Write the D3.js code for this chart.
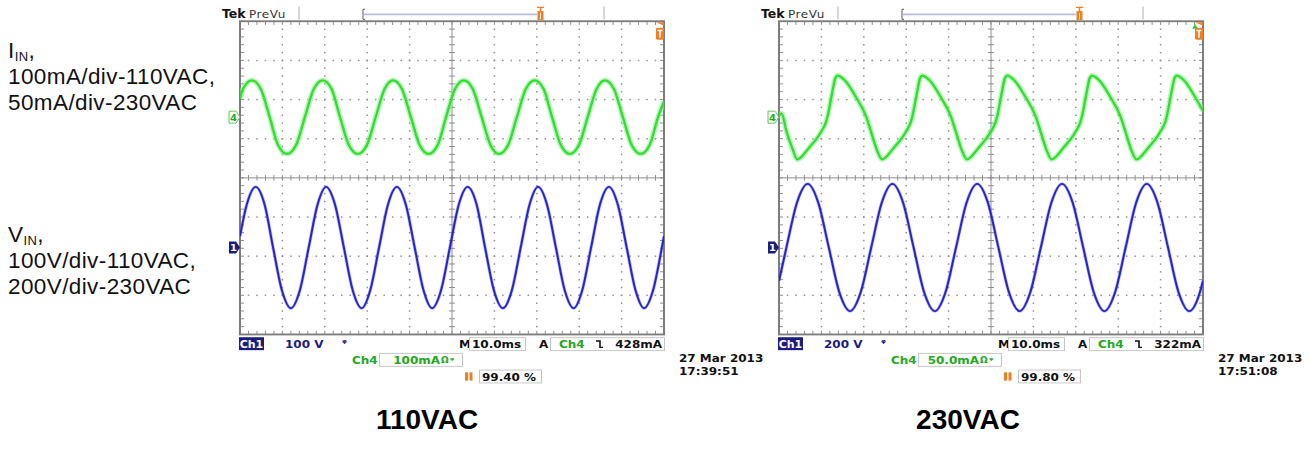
<!DOCTYPE html>
<html>
<head>
<meta charset="utf-8">
<script src="https://cdn.jsdelivr.net/npm/d3@7"></script>
<style>
  body { margin: 0; background: #fff; }
  svg { display: block; }
</style>
</head>
<body>
<svg id="chart" width="1309" height="458"></svg>
<script>
// ---- data (time in ms, 10 ms/div) ----
var scopeTitles = ["110VAC", "230VAC"];
var voltsPerDiv = [100, 200];
var milliampsPerDiv = [100, 50];
var ch1Labels = ["100 V", "200 V"];
var ch4Labels = ["100mA", "50.0mA"];
var trigLevels = ["428mA", "322mA"];
var trigPercents = ["99.40 %", "99.80 %"];
var dates = ["27 Mar 2013", "27 Mar 2013"];
var clocks = ["17:39:51", "17:51:08"];

// V_IN, 110VAC (volts)
var volt110 = [[0,29],[1.6,110],[3.7,155],[5.8,110],[7.8,0],[9.9,-110],[12.0,-155],[14.1,-110],
  [16.2,0],[18.3,110],[20.3,155],[22.4,110],[24.5,0],[26.6,-110],[28.7,-155],[30.7,-110],
  [32.8,0],[34.9,110],[37.0,155],[39.1,110],[41.2,0],[43.3,-110],[45.3,-155],[47.4,-110],
  [49.5,0],[51.6,110],[53.7,155],[55.8,110],[57.8,0],[59.9,-110],[62.0,-155],[64.1,-110],
  [66.2,0],[68.3,110],[70.3,155],[72.4,110],[74.5,0],[76.6,-110],[78.7,-155],[80.7,-110],
  [82.8,0],[84.9,110],[87.0,155],[89.1,110],[91.2,0],[93.3,-110],[95.3,-155],[97.4,-110],
  [99.5,0],[100,29]];

// I_IN, 110VAC (mA)
var curr110 = [[0,47],[0.7,72],[2.8,94],[4.9,72],[7.0,0],[9.0,-72],[11.1,-94],[13.2,-72],
  [15.3,0],[17.4,72],[19.5,94],[21.6,72],[23.6,0],[25.7,-72],[27.8,-94],[29.9,-72],
  [32.0,0],[34.1,72],[36.1,94],[38.2,72],[40.3,0],[42.4,-72],[44.5,-94],[46.6,-72],
  [48.6,0],[50.7,72],[52.8,94],[54.9,72],[57.0,0],[59.1,-72],[61.1,-94],[63.2,-72],
  [65.3,0],[67.4,72],[69.5,94],[71.6,72],[73.6,0],[75.7,-72],[77.8,-94],[79.9,-72],
  [82.0,0],[84.1,72],[86.1,94],[88.2,72],[90.3,0],[92.4,-72],[94.5,-94],[96.6,-72],
  [98.6,0],[100,40]];

// V_IN, 230VAC (volts)
var volt230 = [[0,-170],[1.75,0],[4.25,230],[6.75,325],[9.25,230],[11.75,0],[14.25,-230],[16.75,-325],
  [19.25,-230],[21.75,0],[24.25,230],[26.75,325],[29.25,230],[31.75,0],[34.25,-230],[36.75,-325],
  [39.25,-230],[41.75,0],[44.25,230],[46.75,325],[49.25,230],[51.75,0],[54.25,-230],[56.75,-325],
  [59.25,-230],[61.75,0],[64.25,230],[66.75,325],[69.25,230],[71.75,0],[74.25,-230],[76.75,-325],
  [79.25,-230],[81.75,0],[84.25,230],[86.75,325],[89.25,230],[91.75,0],[94.25,-230],[96.75,-325],
  [99.25,-230],[100,-170]];

// I_IN, 230VAC (mA)
var curr230 = [[0,2],[0.6,5],[1.8,-19],[3.3,-42],
  [4.3,-54],[7.1,-39],[9.9,-19],[11.1,-6],[11.5,2],[12.5,30],[13.3,50],[13.8,53],[15.5,47],[18.1,26],[20.6,0],[21.9,-22],[23.1,-42],
  [24.3,-54],[27.1,-39],[29.9,-19],[31.1,-6],[31.5,2],[32.5,30],[33.3,50],[33.8,53],[35.5,47],[38.1,26],[40.6,0],[41.9,-22],[43.1,-42],
  [44.3,-54],[47.1,-39],[49.9,-19],[51.1,-6],[51.5,2],[52.5,30],[53.3,50],[53.8,53],[55.5,47],[58.1,26],[60.6,0],[61.9,-22],[63.1,-42],
  [64.3,-54],[67.1,-39],[69.9,-19],[71.1,-6],[71.5,2],[72.5,30],[73.3,50],[73.8,53],[75.5,47],[78.1,26],[80.6,0],[81.9,-22],[83.1,-42],
  [84.3,-54],[87.1,-39],[89.9,-19],[91.1,-6],[91.5,2],[92.5,30],[93.3,50],[93.8,53],[95.5,47],[98.1,26],[100,8]];

var voltTraces = [volt110, volt230];
var currTraces = [curr110, curr230];

// ---- layout ----
var DIV = 42.4;
var SQUASH = 0.9234;      // the captures are shown slightly squashed vertically
var SCOPE_LEFT = [240, 779];
var SCOPE_TOP = 23;
var CH1_OFFSET = -1.78;   // divisions from centre
var CH4_OFFSET = 1.55;
var GREEN = "#33dd33", GREEN_TXT = "#22a822", BLUE = "#2626c8", NAVY = "#1c1c7e", ORANGE = "#ef7f22";
var READ_FONT = "'DejaVu Sans', sans-serif";

var svg = d3.select("#chart");
var screen = svg.append("g").attr("transform", "scale(1," + SQUASH + ")");

function drawScope(i) {
  var x0 = SCOPE_LEFT[i], y0 = SCOPE_TOP;
  var x1 = x0 + 10 * DIV, y1 = y0 + 8 * DIV;
  var x = d3.scaleLinear().domain([0, 100]).range([x0, x1]);
  var div = d3.scaleLinear().domain([-4, 4]).range([y1, y0]);
  var yV = d3.scaleLinear().domain([(-4 - CH1_OFFSET) * voltsPerDiv[i], (4 - CH1_OFFSET) * voltsPerDiv[i]]).range([y1, y0]);
  var yI = d3.scaleLinear().domain([(-4 - CH4_OFFSET) * milliampsPerDiv[i], (4 - CH4_OFFSET) * milliampsPerDiv[i]]).range([y1, y0]);

  var g = screen.append("g");

  // dotted graticule
  var minorT = d3.range(0, 100.01, 2), minorD = d3.range(-4, 4.01, 0.2);
  [10, 20, 30, 40, 60, 70, 80, 90].forEach(function (t) {
    g.selectAll(null).data(minorD.slice(1, -1)).enter().append("rect")
      .attr("x", x(t) - 0.75).attr("y", function (d) { return div(d) - 0.75; })
      .attr("width", 1.5).attr("height", 1.6).attr("fill", "#8e8e8e");
  });
  [-3, -2, -1, 1, 2, 3].forEach(function (d) {
    g.selectAll(null).data(minorT.slice(1, -1)).enter().append("rect")
      .attr("x", function (t) { return x(t) - 0.75; }).attr("y", div(d) - 0.75)
      .attr("width", 1.5).attr("height", 1.6).attr("fill", "#8e8e8e");
  });

  // centre cross with ticks
  g.append("line").attr("x1", x(50)).attr("x2", x(50)).attr("y1", y0).attr("y2", y1).attr("stroke", "#8a8a8a");
  g.append("line").attr("x1", x0).attr("x2", x1).attr("y1", div(0)).attr("y2", div(0)).attr("stroke", "#8a8a8a");
  g.selectAll(null).data(minorD).enter().append("line")
    .attr("x1", x(50) - 3).attr("x2", x(50) + 3)
    .attr("y1", function (d) { return div(d); }).attr("y2", function (d) { return div(d); })
    .attr("stroke", "#8a8a8a");
  g.selectAll(null).data(minorT).enter().append("line")
    .attr("y1", div(0) - 3).attr("y2", div(0) + 3)
    .attr("x1", function (t) { return x(t); }).attr("x2", function (t) { return x(t); })
    .attr("stroke", "#8a8a8a");

  // border ticks
  [[y0, 4], [y1, -4]].forEach(function (e) {
    g.selectAll(null).data(minorT).enter().append("line")
      .attr("x1", function (t) { return x(t); }).attr("x2", function (t) { return x(t); })
      .attr("y1", e[0]).attr("y2", e[0] + e[1]).attr("stroke", "#8a8a8a");
  });
  [[x0, 4], [x1, -4]].forEach(function (e) {
    g.selectAll(null).data(minorD).enter().append("line")
      .attr("y1", function (d) { return div(d); }).attr("y2", function (d) { return div(d); })
      .attr("x1", e[0]).attr("x2", e[0] + e[1]).attr("stroke", "#8a8a8a");
  });
  g.append("rect").attr("x", x0).attr("y", y0).attr("width", x1 - x0).attr("height", y1 - y0)
    .attr("fill", "none").attr("stroke", "#7c7c7c").attr("stroke-width", 2);

  // traces
  var clipId = "clip" + i;
  svg.append("clipPath").attr("id", clipId).append("rect")
    .attr("x", x0).attr("y", y0).attr("width", x1 - x0).attr("height", y1 - y0);
  var tg = g.append("g").attr("clip-path", "url(#" + clipId + ")");

  var lineI = d3.line().x(function (d) { return x(d[0]); }).y(function (d) { return yI(d[1]); }).curve(d3.curveMonotoneX);
  var lineV = d3.line().x(function (d) { return x(d[0]); }).y(function (d) { return yV(d[1]); }).curve(d3.curveMonotoneX);

  tg.append("path").attr("d", lineI(currTraces[i])).attr("fill", "none")
    .attr("stroke", "#8ff08f").attr("stroke-width", 5.5).attr("stroke-opacity", 0.6);
  tg.append("path").attr("d", lineI(currTraces[i])).attr("fill", "none")
    .attr("stroke", GREEN).attr("stroke-width", 2.4);
  tg.append("path").attr("d", lineV(voltTraces[i])).attr("fill", "none")
    .attr("stroke", "#6a6ae0").attr("stroke-width", 3.4).attr("stroke-opacity", 0.45);
  tg.append("path").attr("d", lineV(voltTraces[i])).attr("fill", "none")
    .attr("stroke", BLUE).attr("stroke-width", 2);

  // channel ground markers
  var m4 = yI(0), m1 = yV(0);
  g.append("path").attr("d", "M" + (x0 - 11) + "," + (m4 - 6.5) + "h7l4,6.5l-4,6.5h-7z")
    .attr("fill", "#fff").attr("stroke", "#55c855").attr("stroke-width", 1);
  g.append("text").attr("x", x0 - 6.5).attr("y", m4 + 4).attr("text-anchor", "middle")
    .style("font", "bold 10px " + READ_FONT).attr("fill", GREEN_TXT).text("4");
  g.append("path").attr("d", "M" + (x0 - 11) + "," + (m1 - 6.5) + "h7l4,6.5l-4,6.5h-7z").attr("fill", NAVY);
  g.append("text").attr("x", x0 - 6.5).attr("y", m1 + 4).attr("text-anchor", "middle")
    .style("font", "bold 10px " + READ_FONT).attr("fill", "#fff").text("1");

  // trigger level marker (top right)
  g.append("path").attr("d", "M" + (x1 - 8) + "," + (y0 + 1) + "h8v4z").attr("fill", ORANGE);
  if (i === 1) {
    g.append("path").attr("d", "M" + (x1 - 11) + "," + (y0 + 8) + "l3,-5l3,5z").attr("fill", "#3c3");
  }
  g.append("rect").attr("x", x1 - 8).attr("y", y0 + 7).attr("width", 8).attr("height", 13).attr("rx", 1.5).attr("fill", ORANGE);
  g.append("path").attr("d", "M" + (x1 - 6.5) + "," + (y0 + 10) + "h5M" + (x1 - 4) + "," + (y0 + 10) + "v8")
    .attr("stroke", "#fff").attr("stroke-width", 1.5);

  // header
  var hy = 19;
  g.append("text").attr("x", x0 - 18).attr("y", hy).style("font", "bold 12.5px " + READ_FONT).attr("fill", "#111").text("Tek");
  g.append("text").attr("x", x0 + 9).attr("y", hy).style("font", "12px " + READ_FONT).style("letter-spacing", "0.6px").attr("fill", "#333").text("PreVu");
  [x0 + 59, x0 + 364].forEach(function (sx) {
    g.append("line").attr("x1", sx).attr("x2", sx).attr("y1", 7).attr("y2", 21).attr("stroke", "#aaa");
  });
  g.append("path").attr("d", "M" + (x0 + 125) + ",10h-2v11h2").attr("fill", "none").attr("stroke", "#555");
  g.append("line").attr("x1", x0 + 124).attr("x2", x0 + 297).attr("y1", 15.5).attr("y2", 15.5)
    .attr("stroke", "#b9b9dc").attr("stroke-width", 2);
  g.append("path").attr("d", "M" + (x0 + 297) + ",8h7M" + (x0 + 300.5) + ",8v4").attr("stroke", ORANGE).attr("stroke-width", 1.5);
  g.append("rect").attr("x", x0 + 297.5).attr("y", 12).attr("width", 6).attr("height", 10).attr("fill", ORANGE);
  g.append("line").attr("x1", x0 + 300.5).attr("x2", x0 + 300.5).attr("y1", 14).attr("y2", 21).attr("stroke", "#fff");

  // readouts
  function box(bx, by, bw, bh) {
    g.append("rect").attr("x", bx + 0.5).attr("y", by + 0.5).attr("width", bw).attr("height", bh)
      .attr("fill", "#fff").attr("stroke", "#c4c4c4");
  }
  function txt(tx, ty, s, col, anchor) {
    return g.append("text").attr("x", tx).attr("y", ty).attr("text-anchor", anchor || "start")
      .style("font", "bold 12px " + READ_FONT).attr("fill", col).text(s);
  }
  var r1 = y1 + 2;
  g.append("rect").attr("x", x0 - 1).attr("y", r1 + 1).attr("width", 25).attr("height", 14).attr("fill", NAVY);
  txt(x0 + 11.5, r1 + 12.5, "Ch1", "#fff", "middle").style("font-size", "11px");
  txt(x0 + 45, r1 + 13, ch1Labels[i], NAVY);
  txt(x0 + 102, r1 + 11, "ᵠ", NAVY).style("font-size", "10px");
  txt(x0 + 219, r1 + 13, "M", "#111");
  box(x0 + 229, r1 + 1, 56, 14);
  txt(x0 + 232, r1 + 13, "10.0ms", "#111");
  txt(x0 + 299, r1 + 13, "A", "#111");
  box(x0 + 310, r1 + 1, 114, 14);
  txt(x0 + 319, r1 + 13, "Ch4", GREEN_TXT);
  g.append("path").attr("d", "M" + (x0 + 356) + "," + (r1 + 5) + "h4v7h3").attr("fill", "none").attr("stroke", "#111").attr("stroke-width", 1.6);
  txt(x0 + 422, r1 + 13, trigLevels[i], "#111", "end");

  var r2 = y1 + 20;
  txt(x0 + 112, r2 + 12, "Ch4", GREEN_TXT);
  box(x0 + 139, r2 + 0, 83, 14);
  txt(x0 + 200, r2 + 12, ch4Labels[i], GREEN_TXT, "end");
  txt(x0 + 201, r2 + 11, "Ω", GREEN_TXT).style("font-size", "9px");
  txt(x0 + 210, r2 + 11, "ᵠ", GREEN_TXT).style("font-size", "9px");

  var r3 = y1 + 38;
  g.append("rect").attr("x", x0 + 225).attr("y", r3 + 3).attr("width", 3).attr("height", 9).attr("fill", ORANGE);
  g.append("rect").attr("x", x0 + 229.5).attr("y", r3 + 3).attr("width", 3).attr("height", 9).attr("fill", ORANGE);
  box(x0 + 239, r3 + 0, 62, 14);
  txt(x0 + 242, r3 + 12, trigPercents[i], "#111");

  txt(x0 + 439, y1 + 30, dates[i], "#111");
  txt(x0 + 439, y1 + 44, clocks[i], "#111");

  // caption under each capture
  svg.append("text").attr("x", [427, 968][i]).attr("y", 429).attr("text-anchor", "middle")
    .style("font", "bold 28px 'Liberation Sans', Arial, sans-serif").attr("fill", "#000").text(scopeTitles[i]);
}

drawScope(0);
drawScope(1);

// left-side channel notes
var notes = svg.append("g").style("font", "22.5px 'Liberation Sans', Arial, sans-serif")
  .style("letter-spacing", "0.4px").attr("fill", "#111");
function note(y, main, sub, rest) {
  var t = notes.append("text").attr("x", 8).attr("y", y);
  t.append("tspan").text(main);
  if (sub) {
    t.append("tspan").attr("dy", 3).style("font-size", "13px").text(sub);
    t.append("tspan").attr("dy", -3).text(rest);
  }
}
note(58, "I", "IN", ",");
note(84, "100mA/div-110VAC,");
note(109.5, "50mA/div-230VAC");
note(242, "V", "IN", ",");
note(268, "100V/div-110VAC,");
note(294, "200V/div-230VAC");
</script>
</body>
</html>
